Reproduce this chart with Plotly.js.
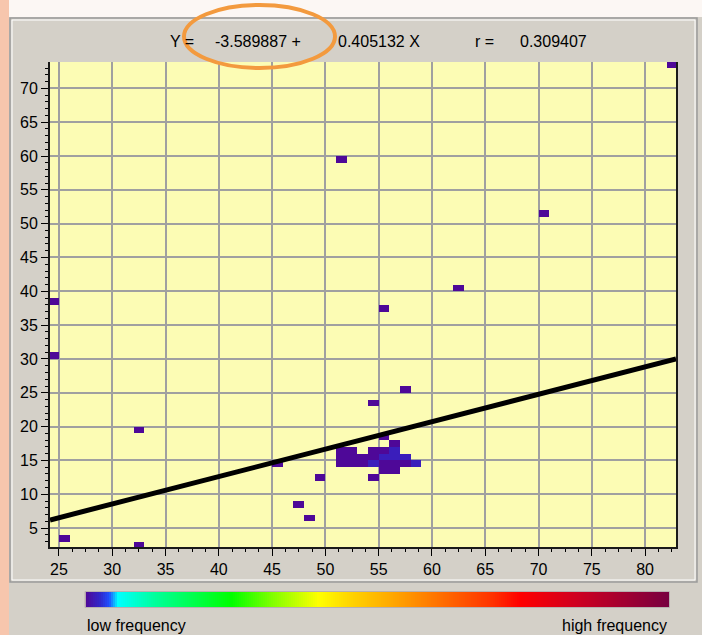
<!DOCTYPE html>
<html><head><meta charset="utf-8">
<script src="https://cdn.plot.ly/plotly-3.0.1.min.js"></script>
<style>html,body{margin:0;padding:0;background:#d4d0c8;}#chart{width:702px;height:635px;}</style>
</head><body><div id="chart"></div>
<script>
// Regression results
const intercept = -3.589887;
const slope = 0.405132;
const rValue = 0.309407;

// Axis ticks
const xTickVals = [25, 30, 35, 40, 45, 50, 55, 60, 65, 70, 75, 80];
const yTickVals = [5, 10, 15, 20, 25, 30, 35, 40, 45, 50, 55, 60, 65, 70];
const xRange = [24.16, 82.9];
const yRange = [2.2, 73.9];

// Occupied bins: centre x, centre y, frequency
const cellX = [82.5, 51.5, 70.5, 62.5, 24.5, 55.5, 24.5, 57.5, 54.5, 32.5, 55.5, 56.5,
  51.5, 52.5, 54.5, 55.5, 56.5,
  51.5, 52.5, 53.5, 54.5, 55.5, 56.5, 57.5,
  45.5, 51.5, 52.5, 53.5, 54.5, 55.5, 56.5, 57.5, 58.5,
  55.5, 56.5,
  49.5, 54.5,
  47.5, 48.5, 25.5, 32.5];
const cellY = [73.5, 59.5, 51.5, 40.5, 38.5, 37.5, 30.5, 25.5, 23.5, 19.5, 18.5, 17.5,
  16.5, 16.5, 16.5, 16.5, 16.5,
  15.5, 15.5, 15.5, 15.5, 15.5, 15.5, 15.5,
  14.5, 14.5, 14.5, 14.5, 14.5, 14.5, 14.5, 14.5, 14.5,
  13.5, 13.5,
  12.5, 12.5,
  8.5, 6.5, 3.5, 2.5];
const cellCount = [1, 1, 1, 1, 1, 1, 1, 1, 1, 1, 1, 1,
  1, 1, 1, 1, 2,
  1, 1, 1, 1, 2, 2, 2,
  1, 1, 1, 1, 2, 1, 1, 1, 2,
  1, 1,
  1, 1,
  1, 1, 1, 1];

const freqMin = 1, freqMax = 60;
const colorStops = [
  [0, '#4e0898'], [0.025, '#3028cc'], [0.04, '#2050ff'], [0.055, '#00ffff'],
  [0.12, '#00ff99'], [0.25, '#00ff00'], [0.32, '#80ff00'], [0.40, '#ffff00'],
  [0.45, '#ffd700'], [0.53, '#ffa500'], [0.63, '#ff6000'], [0.70, '#ff3000'],
  [0.745, '#ff0000'], [0.84, '#d00020'], [1, '#780040']
];

// Build heatmap grid from bins
const gridX = [], gridY = [];
for (let v = 24.5; v <= 82.5; v += 1) gridX.push(v);
for (let v = 2.5; v <= 73.5; v += 1) gridY.push(v);
const z = gridY.map(() => gridX.map(() => null));
cellX.forEach((cx, i) => {
  const xi = gridX.indexOf(cx), yi = gridY.indexOf(cellY[i]);
  if (xi >= 0 && yi >= 0) z[yi][xi] = cellCount[i];
});

// Gradient legend ramp
const rampSteps = 292;
const ramp = [], rampX = [];
for (let i = 0; i < rampSteps; i++) { rampX.push(i); ramp.push(freqMin + (freqMax - freqMin) * i / (rampSteps - 1)); }

const W = 702, H = 635;
const px = v => v / W, py = v => 1 - v / H;

const traces = [
  { type: 'heatmap', x: gridX, y: gridY, z: z, colorscale: colorStops, zmin: freqMin, zmax: freqMax,
    showscale: false, xgap: 0, ygap: 0, hoverinfo: 'skip', xaxis: 'x', yaxis: 'y' },
  { type: 'scatter', mode: 'lines', x: xRange, y: xRange.map(x => intercept + slope * x),
    line: { color: '#000000', width: 5 }, hoverinfo: 'skip', xaxis: 'x', yaxis: 'y' },
  { type: 'heatmap', x: rampX, y: [0], z: [ramp], colorscale: colorStops, zmin: freqMin, zmax: freqMax,
    showscale: false, hoverinfo: 'skip', xaxis: 'x2', yaxis: 'y2' }
];

const tickFont = { family: 'Liberation Sans, Arial, sans-serif', size: 16, color: '#000' };
const layout = {
  width: W, height: H,
  margin: { l: 0, r: 0, t: 0, b: 0 },
  paper_bgcolor: '#d4d0c8', plot_bgcolor: '#fcfcb4',
  showlegend: false,
  font: tickFont,
  xaxis: { domain: [px(50), px(676)], range: xRange, anchor: 'y', tickvals: xTickVals,
    ticks: 'outside', ticklen: 7, tickwidth: 1, tickcolor: '#000', tickfont: tickFont,
    showgrid: true, gridcolor: '#a0a0a0', gridwidth: 2, zeroline: false,
    showline: true, linecolor: '#1a1a1a', linewidth: 2,
    minor: { tick0: 25, dtick: 1.25, ticklen: 3, tickcolor: '#000', ticks: 'outside', showgrid: false } },
  yaxis: { domain: [py(547), py(62)], range: yRange, anchor: 'x', tickvals: yTickVals,
    ticks: 'outside', ticklen: 7, tickwidth: 1, tickcolor: '#000', tickfont: tickFont,
    showgrid: true, gridcolor: '#a0a0a0', gridwidth: 2, zeroline: false,
    showline: true, linecolor: '#1a1a1a', linewidth: 2, mirror: true,
    minor: { tick0: 0, dtick: 1, ticklen: 3, tickcolor: '#000', ticks: 'outside', showgrid: false } },
  xaxis2: { domain: [px(85.4), px(669)], anchor: 'y2', range: [-0.5, rampSteps - 0.5], visible: false, fixedrange: true },
  yaxis2: { domain: [py(607), py(592)], anchor: 'x2', range: [-0.5, 0.5], visible: false, fixedrange: true },
  shapes: [
    { type: 'rect', xref: 'paper', yref: 'paper', x0: 0, x1: 1, y0: py(17), y1: 1, fillcolor: '#fcf7f4', line: { width: 0 }, layer: 'below' },
    { type: 'rect', xref: 'paper', yref: 'paper', x0: 0, x1: px(9), y0: 0, y1: 1, fillcolor: '#f7c6ad', line: { width: 0 }, layer: 'below' },
    { type: 'rect', xref: 'paper', yref: 'paper', x0: px(10), x1: px(697), y0: py(582), y1: py(18), line: { color: '#9a9a9a', width: 1.5 }, layer: 'below' },
    { type: 'rect', xref: 'paper', yref: 'paper', x0: px(12), x1: px(695), y0: py(580), y1: py(20), line: { color: '#ffffff', width: 1 }, layer: 'below' },
    { type: 'rect', xref: 'paper', yref: 'paper', x0: px(85), x1: px(669.5), y0: py(607.5), y1: py(591.5), line: { color: '#b8b0b0', width: 1 } },
    { type: 'circle', xref: 'paper', yref: 'paper', x0: px(184), x1: px(335), y0: py(68), y1: py(5), line: { color: '#f39a3e', width: 4 } }
  ],
  annotations: [
    { text: 'Y =', x: px(168), y: py(41) },
    { text: intercept.toFixed(6) + ' +', x: px(213), y: py(41) },
    { text: slope.toFixed(6) + ' X', x: px(336), y: py(41) },
    { text: 'r =', x: px(473), y: py(41) },
    { text: rValue.toFixed(6), x: px(518), y: py(41) },
    { text: 'low frequency', x: px(85), y: py(625) },
    { text: 'high frequency', x: px(669), y: py(625), xanchor: 'right' }
  ].map(a => Object.assign({ xref: 'paper', yref: 'paper', showarrow: false, xanchor: 'left', yanchor: 'middle',
    font: { family: 'Liberation Sans, Arial, sans-serif', size: 16, color: '#000' } }, a))
};

Plotly.newPlot('chart', traces, layout, { displayModeBar: false, staticPlot: true });
</script>
</body></html>
